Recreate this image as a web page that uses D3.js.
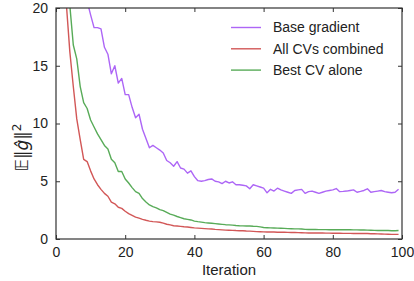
<!DOCTYPE html>
<html>
<head>
<meta charset="utf-8">
<script src="https://cdn.jsdelivr.net/npm/d3@7"></script>
<style>
  body { margin: 0; background: #fff; }
  svg { display: block; font-family: "Liberation Sans", Arial, sans-serif; }
</style>
</head>
<body>
<div id="chart"></div>
<script>
const WIDTH = 414;
const HEIGHT = 281;

// iteraciones 0..99
const iteraciones = d3.range(0, 100);

const baseGradient = [
    60, 48, 40, 34, 30, 27, 25, 23.5, 22, 20.6,
    19.4, 18.3, 18.3, 18.2, 16.6, 16.0, 14.3, 15.0, 13.5, 13.9,
    12.5, 12.5, 11.4, 10.5, 10.8, 9.5, 8.7, 7.9, 8.1, 7.9,
    7.7, 7.45, 6.8, 6.6, 6.3, 6.7, 6.15, 6.05, 5.7, 5.9,
    5.4, 5.05, 5.0, 5.05, 5.15, 5.2, 5.0, 4.95, 4.8, 5.0,
    4.85, 4.95, 4.7, 4.7, 4.65, 4.6, 4.35, 4.7, 4.6, 4.5,
    4.4, 4.0, 4.3, 4.15, 4.4, 4.25, 4.15, 4.05, 3.95, 4.2,
    4.25, 4.3, 3.95, 4.1, 4.15, 4.05, 3.95, 4.05, 4.15, 4.2,
    4.25, 4.37, 4.1, 4.12, 4.15, 4.2, 4.25, 4.05, 4.12, 4.2,
    4.35, 4.05, 4.1, 4.15, 4.2, 4.1, 4.05, 4.0, 4.05, 4.3
];

const allCVs = [
    80, 45, 28, 20.3, 16.2, 13.2, 10.4, 8.6, 6.9, 6.7,
    5.9, 5.2, 4.7, 4.3, 3.95, 3.7, 3.2, 3.05, 2.75, 2.65,
    2.4, 2.2, 2.05, 1.9, 1.8, 1.7, 1.62, 1.55, 1.5, 1.48,
    1.45, 1.38, 1.28, 1.22, 1.15, 1.12, 1.09, 1.06, 1.04, 1.0,
    0.96, 0.94, 0.92, 0.9, 0.88, 0.86, 0.83, 0.81, 0.79, 0.77,
    0.76, 0.75, 0.73, 0.72, 0.71, 0.69, 0.68, 0.66, 0.64, 0.63,
    0.62, 0.61, 0.6, 0.6, 0.59, 0.58, 0.58, 0.57, 0.56, 0.56,
    0.55, 0.54, 0.53, 0.52, 0.52, 0.52, 0.52, 0.52, 0.51, 0.51,
    0.5, 0.5, 0.5, 0.49, 0.49, 0.49, 0.48, 0.48, 0.48, 0.47,
    0.47, 0.46, 0.45, 0.44, 0.43, 0.42, 0.41, 0.4, 0.4, 0.4
];

const bestCV = [
    90, 55, 35, 25, 20.2, 16.8, 15.6, 13.2, 11.8, 11.3,
    10.3, 9.7, 9.1, 8.6, 8.1, 7.8, 6.9, 6.6, 5.85, 5.85,
    5.2, 4.85, 4.45, 4.1, 3.95, 3.5, 3.2, 2.95, 2.8, 2.7,
    2.55, 2.45, 2.3, 2.15, 2.07, 1.95, 1.85, 1.75, 1.7, 1.65,
    1.55, 1.5, 1.46, 1.42, 1.39, 1.36, 1.33, 1.3, 1.27, 1.24,
    1.22, 1.2, 1.17, 1.15, 1.14, 1.13, 1.12, 1.1, 1.09, 1.05,
    1.0, 0.98, 0.96, 0.95, 0.94, 0.93, 0.92, 0.9, 0.89, 0.88,
    0.88, 0.86, 0.83, 0.82, 0.82, 0.82, 0.81, 0.81, 0.81, 0.8,
    0.8, 0.8, 0.8, 0.8, 0.8, 0.8, 0.79, 0.79, 0.78, 0.78,
    0.77, 0.76, 0.75, 0.74, 0.73, 0.73, 0.73, 0.72, 0.72, 0.73
];

const series = [
    { nombre: "Base gradient", valores: baseGradient, color: "#ad66f6" },
    { nombre: "All CVs combined", valores: allCVs, color: "#d25757" },
    { nombre: "Best CV alone", valores: bestCV, color: "#58ab58" }
];

const xTicks = [0, 20, 40, 60, 80, 100];
const yTicks = [0, 5, 10, 15, 20];

const margin = { top: 8, right: 12, bottom: 42, left: 56 };
const innerW = WIDTH - margin.left - margin.right;
const innerH = HEIGHT - margin.top - margin.bottom;

const svg = d3.select("#chart")
    .append("svg")
    .attr("width", WIDTH)
    .attr("height", HEIGHT);

const g = svg.append("g")
    .attr("transform", `translate(${margin.left},${margin.top})`);

const x = d3.scaleLinear().domain([0, 100]).range([0, innerW]);
const y = d3.scaleLinear().domain([0, 20]).range([innerH, 0]);

svg.append("defs").append("clipPath")
    .attr("id", "clip")
    .append("rect")
    .attr("width", innerW)
    .attr("height", innerH);

const linea = d3.line()
    .x(function(d, i) { return x(iteraciones[i]); })
    .y(function(d) { return y(d); });

g.append("g")
    .attr("clip-path", "url(#clip)")
    .selectAll("path")
    .data(series)
    .enter().append("path")
    .attr("d", function(d) { return linea(d.valores); })
    .attr("fill", "none")
    .attr("stroke", function(d) { return d.color; })
    .attr("stroke-width", 1.4)
    .attr("stroke-linejoin", "round");

// ejes con ticks hacia adentro en los cuatro lados
const fontSize = 14;

const ejeX = g.append("g")
    .attr("transform", `translate(0,${innerH})`)
    .call(d3.axisBottom(x).tickValues(xTicks).tickSizeInner(-4).tickSizeOuter(0).tickPadding(8));
const ejeY = g.append("g")
    .call(d3.axisLeft(y).tickValues(yTicks).tickSizeInner(-4).tickSizeOuter(0).tickPadding(8));
const ejeTop = g.append("g")
    .call(d3.axisTop(x).tickValues(xTicks).tickSizeInner(-4).tickSizeOuter(0).tickFormat(""));
const ejeRight = g.append("g")
    .attr("transform", `translate(${innerW},0)`)
    .call(d3.axisRight(y).tickValues(yTicks).tickSizeInner(-4).tickSizeOuter(0).tickFormat(""));

[ejeX, ejeY, ejeTop, ejeRight].forEach(function(eje) {
    eje.select(".domain").remove();
    eje.selectAll(".tick line").attr("stroke", "#333").attr("stroke-width", 1);
    eje.selectAll(".tick text")
        .attr("fill", "#222")
        .style("font-size", fontSize + "px")
        .style("font-family", "'Liberation Sans', Arial, sans-serif");
});

g.append("rect")
    .attr("width", innerW)
    .attr("height", innerH)
    .attr("fill", "none")
    .attr("stroke", "#333")
    .attr("stroke-width", 1.2);

// etiquetas de ejes
svg.append("text")
    .attr("x", margin.left + innerW / 2)
    .attr("y", HEIGHT - 6)
    .attr("text-anchor", "middle")
    .attr("fill", "#222")
    .style("font-size", "15px")
    .text("Iteration");

const yLabel = svg.append("text")
    .attr("transform", `translate(28,${margin.top + innerH / 2 + 24}) rotate(-90)`)
    .attr("text-anchor", "middle")
    .attr("fill", "#222")
    .style("font-size", "17px")
    .style("font-family", "'DejaVu Sans', sans-serif");
yLabel.append("tspan").text("\u{1D53C}\u2016");
yLabel.append("tspan").style("font-style", "italic").text("\u011D");
yLabel.append("tspan").text("\u2016");
yLabel.append("tspan").attr("dy", -7).style("font-size", "12px").text("2");

// leyenda
const leyenda = g.append("g")
    .attr("transform", "translate(175,19.5)");

const item = leyenda.selectAll("g")
    .data(series)
    .enter().append("g")
    .attr("transform", function(d, i) { return `translate(0,${i * 21.3})`; });

item.append("line")
    .attr("x1", 0)
    .attr("x2", 30)
    .attr("stroke", function(d) { return d.color; })
    .attr("stroke-width", 1.4);

item.append("text")
    .attr("x", 42)
    .attr("dy", "0.35em")
    .attr("fill", "#222")
    .style("font-size", fontSize + "px")
    .text(function(d) { return d.nombre; });
</script>
</body>
</html>
